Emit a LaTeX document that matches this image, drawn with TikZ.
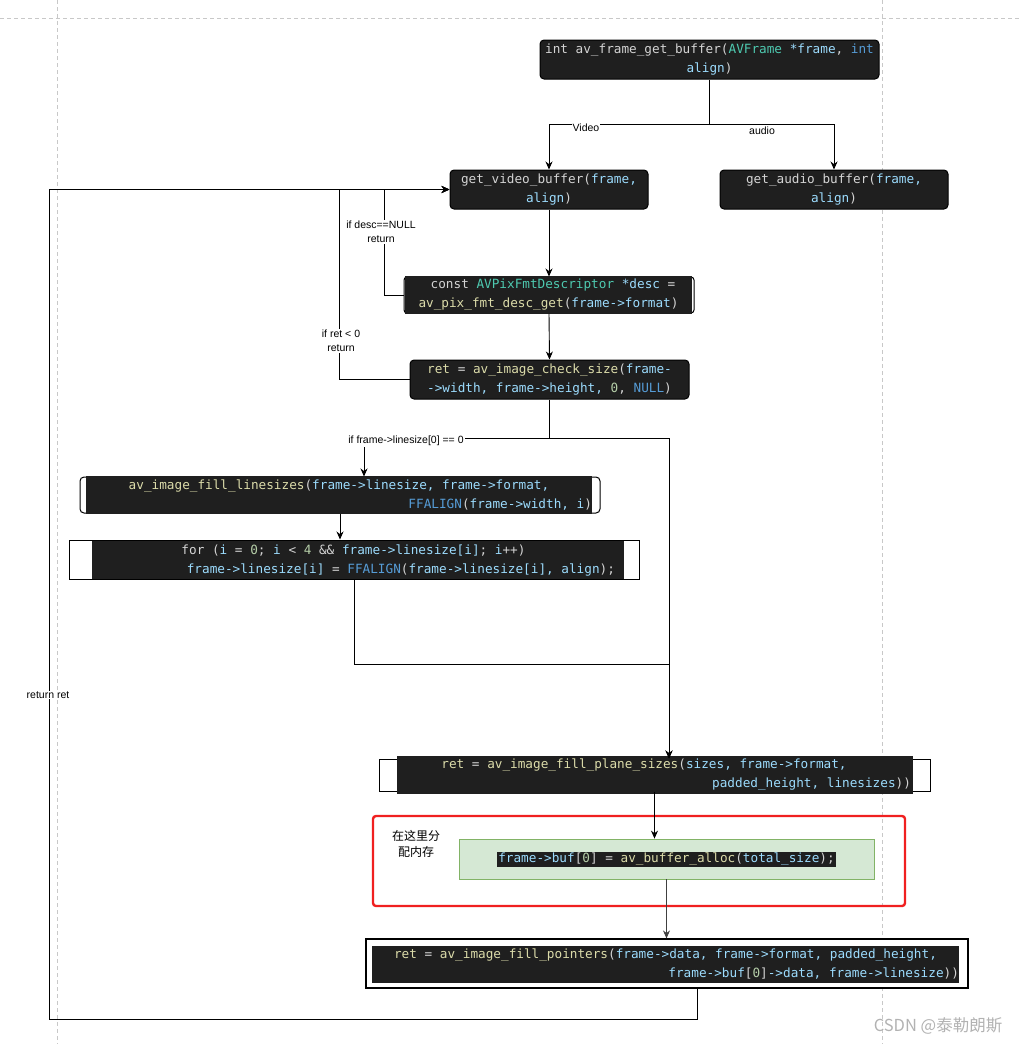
\documentclass[tikz,border=0pt]{standalone}
\usepackage{fontspec}
\setmainfont{Liberation Sans}
\newfontfamily\codefam{DejaVu Sans Mono}
\newfontfamily\cjk{Noto Sans CJK SC}
\usetikzlibrary{arrows.meta,calc}
\definecolor{codebg}{HTML}{1F1F1F}
\definecolor{codefg}{HTML}{D4D4D4}
\definecolor{ckw}{HTML}{569CD6}
\definecolor{cty}{HTML}{4EC9B0}
\definecolor{cvar}{HTML}{9CDCFE}
\definecolor{cfun}{HTML}{DCDCAA}
\definecolor{cnum}{HTML}{B5CEA8}
\definecolor{guide}{HTML}{C8C8C8}
\definecolor{greenfill}{HTML}{D5E8D4}
\definecolor{greenline}{HTML}{82B366}
\definecolor{redline}{HTML}{F02020}
\newcommand\hlK[1]{\textcolor{ckw}{#1}}
\newcommand\hlT[1]{\textcolor{cty}{#1}}
\newcommand\hlV[1]{\textcolor{cvar}{#1}}
\newcommand\hlF[1]{\textcolor{cfun}{#1}}
\newcommand\hlN[1]{\textcolor{cnum}{#1}}
\newcommand\codesz{\codefam\fontsize{12.7pt}{19pt}\selectfont}
\newcommand\monospacing{\spaceskip=0.602em\relax\xspaceskip=0.602em\relax}
\begin{document}
\begin{tikzpicture}[x=1pt,y=-1pt,
  codebox/.style={fill=codebg, text=codefg, font=\codesz, inner sep=0pt, align=center, execute at begin node=\monospacing},
  outerbox/.style={draw=black, fill=white, line width=1pt, inner sep=0pt},
  lbl/.style={font=\fontsize{10.5pt}{14pt}\selectfont, fill=white, inner sep=1pt, align=center},
  wire/.style={line width=0.9pt, draw=black},
  conn/.style={wire, -{Stealth[length=8pt,width=7pt]}},
  guideline/.style={draw=guide, line width=0.8pt, dash pattern=on 4pt off 3pt}]
\useasboundingbox (0,0) rectangle (1022,1044);
% page guides
\draw[guideline] (57,0) -- (57,1044);
\draw[guideline] (882,0) -- (882,1044);
\draw[guideline] (0,18) -- (1022,18);

% nodes
\node[codebox, draw=black, line width=1pt, rounded corners=4pt, minimum width=339, minimum height=39, text width=339pt] (top) at (709.5,59.5)
  {int av\_frame\_get\_buffer(\hlT{AVFrame} \hlV{*frame}, \hlK{int}\\\hlV{align})};
\node[codebox, draw=black, line width=1pt, rounded corners=4pt, minimum width=198, minimum height=39, text width=198pt] (video) at (549,189.5)
  {get\_video\_buffer(\hlV{frame,}\\\hlV{align})};
\node[codebox, draw=black, line width=1pt, rounded corners=4pt, minimum width=228, minimum height=39, text width=228pt] (audio) at (834,189.5)
  {get\_audio\_buffer(\hlV{frame,}\\\hlV{align})};

\node[outerbox, rounded corners=3pt, minimum width=290, minimum height=36] (descO) at (549,295) {};
\node[codebox, minimum width=287, minimum height=38, text width=287pt] (desc) at (548.5,295)
  {\makebox[287pt][c]{\hspace*{9pt}const \hlT{AVPixFmtDescriptor} \hlV{*desc} =}\\
   \makebox[287pt][c]{\hlF{av\_pix\_fmt\_desc\_get}(\hlV{frame->format})}};

\node[codebox, draw=black, line width=1pt, rounded corners=4pt, minimum width=279, minimum height=39, text width=279pt] (check) at (549.5,379.5)
  {\hlF{ret} = \hlF{av\_image\_check\_size}(\hlV{frame-}\\\hlV{->width, frame->height,} \hlN{0}, \hlK{NULL})};

\node[outerbox, rounded corners=4pt, minimum width=520, minimum height=36] (linesO) at (340,495) {};
\node[codebox, minimum width=506, minimum height=38, text width=506pt] (lines) at (339,495)
  {\makebox[506pt][c]{\hlF{av\_image\_fill\_linesizes}(\hlV{frame->linesize, frame->format,}}\\
   \makebox[506pt][r]{\hlK{FFALIGN}(\hlV{frame->width, i})}};

\node[outerbox, minimum width=570, minimum height=39] (forO) at (354,559.5) {};
\node[codebox, minimum width=532, minimum height=38, text width=532pt] (forl) at (358,560)
  {\makebox[532pt][c]{for (\hlV{i} = \hlN{0}; \hlV{i} < \hlN{4} \&\& \hlV{frame->linesize[i]}; \hlV{i}++)\hspace*{9pt}}\\
   \makebox[532pt][r]{\hlV{frame->linesize[i]} = \hlK{FFALIGN}(\hlV{frame->linesize[i], align});\hspace*{9pt}}};

\node[outerbox, minimum width=551, minimum height=32] (planeO) at (654.5,775) {};
\node[codebox, minimum width=516, minimum height=38, text width=516pt] (plane) at (655,775)
  {\makebox[516pt][c]{\hlF{ret} = \hlF{av\_image\_fill\_plane\_sizes}(\hlV{sizes, frame->format,}\hspace*{22pt}}\\
   \makebox[516pt][r]{\hlV{padded\_height, linesizes}))\hspace*{2pt}}};

\node[draw=redline, line width=2.4pt, rounded corners=3pt, minimum width=532, minimum height=90, inner sep=0pt] (alloc) at (639,861) {};
\node[draw=greenline, fill=greenfill, line width=0.8pt, minimum width=415, minimum height=40, inner sep=0pt] (green) at (666.5,859) {};
\node[codebox, inner sep=1pt] (greentext) at (666.5,859.5)
  {\hlV{frame->buf}[\hlN{0}] = \hlF{av\_buffer\_alloc}(\hlV{total\_size});};
\node[font=\cjk\fontsize{12pt}{16pt}\selectfont, align=center, inner sep=0pt] (allocnote) at (416,844) {在这里分\\配内存};

\node[outerbox, line width=1.2pt, minimum width=602, minimum height=49] (fillpO) at (667,963.5) {};
\node[codebox, minimum width=587, minimum height=37, text width=587pt] (fillp) at (665.5,964.5)
  {\makebox[587pt][c]{\hlF{ret} = \hlF{av\_image\_fill\_pointers}(\hlV{frame->data, frame->format, padded\_height,}}\\
   \makebox[587pt][r]{\hlV{frame->buf}[\hlN{0}]\hlV{->data, frame->linesize}))}};

% bend coordinates
\coordinate (split) at (709.5,124);
\coordinate (jDesc) at (384,189.5);
\coordinate (jRet) at (339,189.5);
\coordinate (bM) at (549.5,438);
\coordinate (bR) at (669,438);
\coordinate (bL) at (364,438);
\coordinate (bF) at (669,664);
\coordinate (rA) at (697,1019);
\coordinate (rB) at (49,1019);
\coordinate (rC) at (49,189.5);

% connectors
\draw[conn] (top.south) -- (split) -| (video.north);
\draw[conn] (split) -| (audio.north);
\draw[conn] (video.south) -- (descO.north);
\draw[conn] (descO.west) -| (jDesc) -- (video.west);
\draw[conn] (descO.south) -- (check.north);
\draw[conn] (check.west) -| (jRet) -- (video.west);
\draw[conn] (check.south) -- (bM) -- (bR) -- (bR |- planeO.north);
\draw[conn] (bM) -- (bL) -- (bL |- linesO.north);
\draw[conn] (linesO.south) -- (linesO.south |- forO.north);
\draw[conn] (forO.south) |- (bF) -- (bF |- planeO.north);
\draw[conn] (planeO.south) -- (planeO.south |- green.north);
\draw[conn, draw=black!75] (green.south) -- (green.south |- fillpO.north);
\draw[conn] (rA |- fillpO.south) -- (rA) -- (rB) -- (rC) -- (video.west);

% labels
\node[lbl] (lVideo) at (586,128) {Video};
\node[lbl] (lAudio) at (762,131) {audio};
\node[lbl] (lDesc) at (381,232) {if desc==NULL\\return};
\node[lbl] (lRet) at (341,341) {if ret < 0\\return};
\node[lbl] (lLine) at (406,441) {if frame->linesize[0] == 0};
\node[lbl] (lRetRet) at (48,695) {return ret};

% watermark
\node[font=\cjk\fontsize{16.5pt}{18pt}\selectfont, text=black!30, inner sep=0pt] (mark) at (938,1026) {CSDN @泰勒朗斯};
\end{tikzpicture}
\end{document}
